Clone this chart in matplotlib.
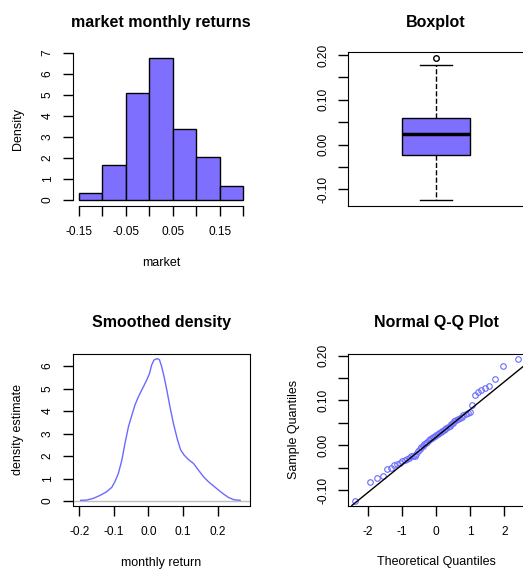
import matplotlib
matplotlib.use("Agg")
import matplotlib.pyplot as plt
import numpy as np
from statistics import NormalDist

plt.rcParams['font.family'] = ['Liberation Sans', 'DejaVu Sans']
plt.rcParams['axes.unicode_minus'] = False

# --- data ---
bin_edges = [-0.15, -0.10, -0.05, 0.00, 0.05, 0.10, 0.15, 0.20]
hist_density = [0.34, 1.69, 5.08, 6.78, 3.39, 2.03, 0.68]

box_q1, box_med, box_q3 = -0.0234, 0.0229, 0.060
box_lo, box_hi = -0.1246, 0.178
box_out = [0.193]

dens_x = [-0.196, -0.179, -0.159, -0.140, -0.121, -0.106, -0.097, -0.087, -0.077, -0.068,
          -0.058, -0.048, -0.039, -0.029, -0.017, -0.005, 0.003, 0.009, 0.016, 0.026,
          0.032, 0.038, 0.045, 0.053, 0.062, 0.072, 0.084, 0.093, 0.103, 0.115,
          0.130, 0.144, 0.159, 0.173, 0.188, 0.202, 0.217, 0.231, 0.246, 0.265]
dens_y = [0.03, 0.04, 0.12, 0.25, 0.41, 0.61, 0.86, 1.23, 1.82, 2.56,
          3.30, 3.82, 4.27, 4.64, 5.01, 5.38, 5.67, 6.04, 6.27, 6.33,
          6.27, 5.97, 5.53, 4.93, 4.19, 3.45, 2.71, 2.27, 2.04, 1.85,
          1.67, 1.38, 1.08, 0.86, 0.67, 0.49, 0.31, 0.16, 0.06, 0.03]

sample = [-0.1246, -0.082, -0.073, -0.069, -0.052, -0.0505, -0.045, -0.042, -0.039, -0.036,
          -0.033, -0.030, -0.028, -0.025, -0.024, -0.023, -0.019, -0.012, -0.008, -0.005,
          -0.002, 0.002, 0.005, 0.008, 0.011, 0.013, 0.016, 0.018, 0.021, 0.023,
          0.025, 0.027, 0.029, 0.031, 0.033, 0.036, 0.038, 0.041, 0.044, 0.047,
          0.050, 0.054, 0.057, 0.059, 0.061, 0.064, 0.067, 0.070, 0.072, 0.075,
          0.090, 0.113, 0.118, 0.124, 0.128, 0.133, 0.147, 0.178, 0.193]
qq_slope, qq_intercept = 0.0618, 0.0183

fill = '#7F6FFF'
W, H = 523, 571
fig = plt.figure(figsize=(W / 100, H / 100), dpi=100)

def box(l, t, r, b):
    return [l / W, 1 - b / H, (r - l) / W, (b - t) / H]

def style(ax):
    ax.tick_params(length=7, width=1, labelsize=8.6, pad=7.5)
    ax.tick_params(axis='y', labelrotation=90, pad=6.5)
    for lab in ax.get_yticklabels():
        lab.set_va('center')

def ftext(x, y, s, **kw):
    fig.text(x / W, 1 - y / H, s, ha='center', va='center', **kw)

# histogram
ax1 = fig.add_axes(box(72.5, 52, 249.5, 206))
ax1.bar(bin_edges[:-1], hist_density, width=0.05, align='edge', color=fill,
        edgecolor='black', linewidth=1)
ax1.set_xlim(-0.1639, 0.2138)
ax1.set_ylim(-0.286, 7.048)
ax1.set_xticks([-0.15, -0.10, -0.05, 0.0, 0.05, 0.10, 0.15, 0.20])
ax1.set_xticklabels(['-0.15', '', '-0.05', '', '0.05', '', '0.15', ''])
ax1.set_yticks(range(8))
for s in ['top', 'right']:
    ax1.spines[s].set_visible(False)
ax1.spines['left'].set_bounds(0, 7)
ax1.spines['bottom'].set_bounds(-0.15, 0.2)
style(ax1)
ftext(161, 22.7, 'market monthly returns', fontsize=11.5, fontweight='bold')
ftext(161, 263, 'market', fontsize=9)
ftext(18, 129, 'Density', fontsize=9, rotation=90)

# boxplot
ax2 = fig.add_axes(box(348, 52, 524, 206))
stats = [dict(med=box_med, q1=box_q1, q3=box_q3, whislo=box_lo, whishi=box_hi, fliers=box_out)]
ax2.bxp(stats, positions=[1], widths=0.386, capwidths=0.18, patch_artist=True,
        boxprops=dict(facecolor=fill, edgecolor='black', linewidth=1),
        medianprops=dict(color='black', linewidth=2.5),
        whiskerprops=dict(color='black', linestyle='--', linewidth=1),
        capprops=dict(color='black', linewidth=1),
        flierprops=dict(marker='o', markerfacecolor='none', markeredgecolor='black', markersize=4))
ax2.set_xlim(0.5, 1.5)
ax2.set_ylim(-0.1373, 0.2067)
ax2.set_xticks([])
ax2.set_yticks([-0.10, -0.05, 0.0, 0.05, 0.10, 0.15, 0.20])
ax2.set_yticklabels(['-0.10', '', '0.00', '', '0.10', '', '0.20'])
style(ax2)
ftext(436, 22.7, 'Boxplot', fontsize=11.5, fontweight='bold')

# smoothed density
ax3 = fig.add_axes(box(72.5, 353.5, 249.5, 505.5))
ax3.axhline(0, color='#BEBEBE', linewidth=1)
ax3.plot(dens_x, dens_y, color='#6A6AFF', linewidth=1)
ax3.set_xlim(-0.2197, 0.292)
ax3.set_ylim(-0.2, 6.556)
ax3.set_xticks([-0.2, -0.1, 0.0, 0.1, 0.2])
ax3.set_xticklabels(['-0.2', '-0.1', '0.0', '0.1', '0.2'])
ax3.set_yticks(range(7))
style(ax3)
ftext(161, 322.3, 'Smoothed density', fontsize=11.5, fontweight='bold')
ftext(161, 563, 'monthly return', fontsize=9)
ftext(18, 429.5, 'density estimate', fontsize=9, rotation=90)

# normal Q-Q plot
n = len(sample)
theo = [NormalDist().inv_cdf((i + 0.5) / n) for i in range(n)]
ax4 = fig.add_axes(box(348, 353.5, 524, 505.5))
ax4.plot(theo, sample, linestyle='none', marker='o', markerfacecolor='none',
         markeredgecolor='#6A6AFF', markersize=4, markeredgewidth=0.8)
ax4.axline((0, qq_intercept), slope=qq_slope, color='black', linewidth=1)
ax4.set_xlim(-2.587, 2.575)
ax4.set_ylim(-0.1346, 0.2049)
ax4.set_xticks([-2, -1, 0, 1, 2])
ax4.set_yticks([-0.10, -0.05, 0.0, 0.05, 0.10, 0.15, 0.20])
ax4.set_yticklabels(['-0.10', '', '0.00', '', '0.10', '', '0.20'])
style(ax4)
ftext(436, 322.3, 'Normal Q-Q Plot', fontsize=11.5, fontweight='bold')
ftext(436, 562, 'Theoretical Quantiles', fontsize=9)
ftext(293.7, 429.5, 'Sample Quantiles', fontsize=9, rotation=90)

fig.savefig('out.png', dpi=100)
